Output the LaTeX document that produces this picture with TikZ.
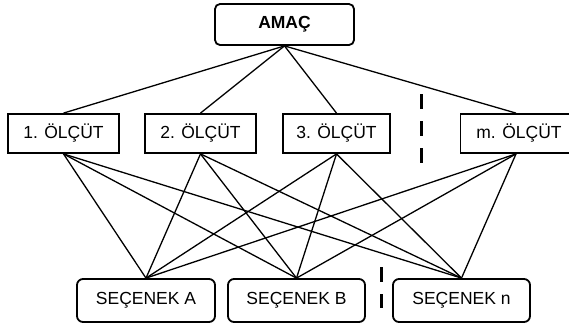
\documentclass[tikz,border=0pt]{standalone}
\usepackage{fontspec}
\setmainfont{Liberation Sans}
\usetikzlibrary{positioning}

\begin{document}
\begin{tikzpicture}[x=1pt,y=-1pt,node distance=136pt,on grid,
  font=\fontsize{17.5}{20}\selectfont,
  goal/.style={draw,line width=1.8pt,rounded corners=5pt,minimum width=139pt,minimum height=41pt,inner sep=0pt,font=\fontsize{17.5}{20}\selectfont\bfseries},
  crit/.style={draw,line width=1.8pt,minimum width=111pt,minimum height=39pt,inner sep=0pt},
  alt/.style={draw,line width=1.8pt,rounded corners=6pt,minimum width=138pt,minimum height=43pt,inner sep=0pt}]
  \useasboundingbox (0,0) rectangle (569,325);
  \node[goal]             (G)  at (284.5,24.5)       {AMAÇ};
  \node[crit]             (C1) at (63.5,133.5)       {1. ÖLÇÜT};
  \node[crit]             (C2) [right=137pt of C1]   {2. ÖLÇÜT};
  \node[crit,minimum width=107pt] (C3) [right=of C2] {3. ÖLÇÜT};
  \node[crit,minimum width=117pt] (Cm) [right=182.5pt of C3] {m. ÖLÇÜT};
  \node[alt]              (A)  at (146,300.5)        {SEÇENEK A};
  \node[alt,minimum width=137pt] (B) [right=150.5pt of A] {SEÇENEK B};
  \node[alt,minimum width=137pt] (N) [right=165pt of B]   {SEÇENEK n};

  % gaps in the rows
  \coordinate (d1) at (421,94);
  \coordinate (d2) at (421,171);
  \coordinate (d3) at (381,267);
  \coordinate (d4) at (381,308);

\tikzset{link/.style={line width=1.3pt}}
\tikzset{gap/.style={line width=3pt,dash pattern=on 15pt off 12pt}}
\path (G.south)  edge [link] (C1.north)
      (G.south)  edge [link] (C2.north)
      (G.south)  edge [link] (C3.north)
      (G.south)  edge [link] ([xshift=-3pt]Cm.north)
      (C1.south) edge [link] (A.north)
      (C1.south) edge [link] (B.north)
      (C1.south) edge [link] (N.north)
      (C2.south) edge [link] (A.north)
      (C2.south) edge [link] (B.north)
      (C2.south) edge [link] (N.north)
      (C3.south) edge [link] (A.north)
      (C3.south) edge [link] (B.north)
      (C3.south) edge [link] (N.north)
      ([xshift=-3pt]Cm.south) edge [link] (A.north)
      ([xshift=-3pt]Cm.south) edge [link] (B.north)
      ([xshift=-3pt]Cm.south) edge [link] (N.north);
\path (d1) edge [gap] (d2)
      (d3) edge [gap] (d4);
\end{tikzpicture}
\end{document}
